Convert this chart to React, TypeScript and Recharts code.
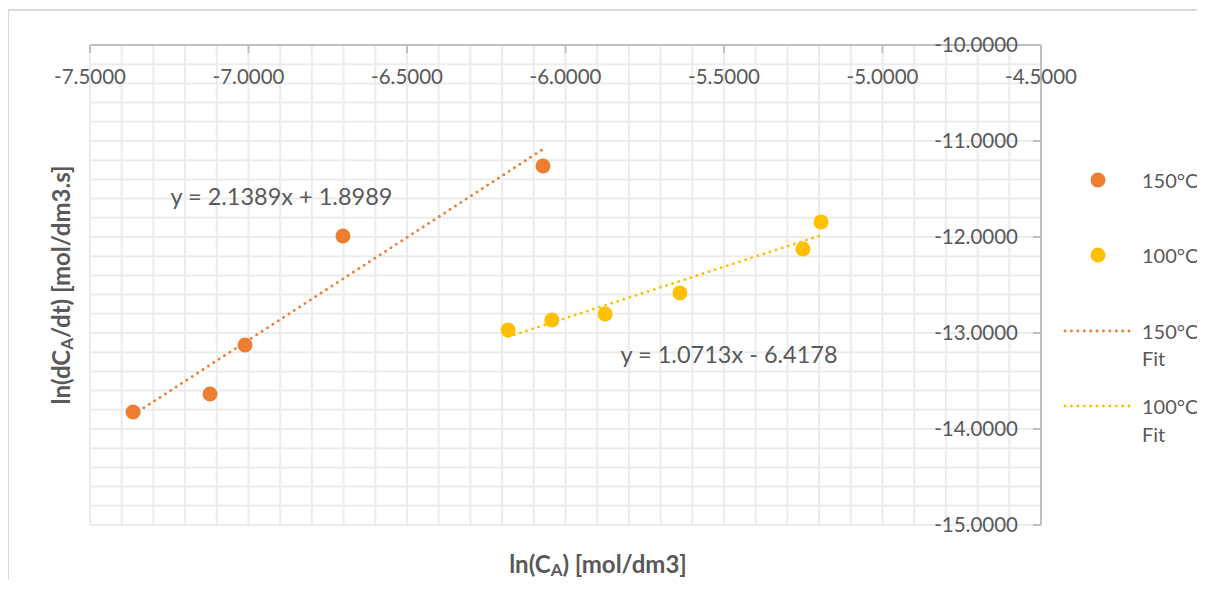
import React from "react";
import { ScatterChart, Scatter, XAxis, YAxis, ReferenceLine, ReferenceDot } from "recharts";

// ln(CA) and ln(rate)
const lnCa150 = [-7.364, -7.1215, -7.011, -6.702, -6.071];
const lnRate150 = [-13.823, -13.635, -13.125, -11.99, -11.26];
const lnCa100 = [-6.181, -6.043, -5.875, -5.639, -5.251, -5.194];
const lnRate100 = [-12.969, -12.865, -12.802, -12.583, -12.125, -11.844];

// trendline coefficients (from the equations on the chart)
const fitCoef150 = [2.1389, 1.8989];
const fitCoef100 = [1.0713, -6.4178];

const xTicks = [-7.5, -7, -6.5, -6, -5.5, -5, -4.5];
const yTicks = [-15, -14, -13, -12, -11, -10];
// minor gridlines: every 0.1 on x, every 0.2 on y
const minorX = Array.from({ length: 31 }, (_, i) => -7.5 + i * 0.1);
const minorY = Array.from({ length: 26 }, (_, i) => -15 + i * 0.2);

const ORANGE = "#ED7D31";
const YELLOW = "#FFC000";
const TEXT = "#595959";
const GRID = "#ececec";
const FONT = "Lato, 'Open Sans', sans-serif";

const toPoints = (xs: number[], ys: number[]) => xs.map((x, i) => ({ x, y: ys[i] }));

const fitPoints = (xs: number[], coef: number[]) => {
  const lo = Math.min(...xs);
  const hi = Math.max(...xs);
  return [
    { x: lo, y: coef[0] * lo + coef[1] },
    { x: hi, y: coef[0] * hi + coef[1] },
  ];
};

const pts150 = toPoints(lnCa150, lnRate150);
const pts100 = toPoints(lnCa100, lnRate100);
const fit150 = fitPoints(lnCa150, fitCoef150);
const fit100 = fitPoints(lnCa100, fitCoef100);

const fmt = (v: number) => v.toFixed(4);

const dot = (color: string) => (props: any) => (
  <circle cx={props.cx} cy={props.cy} r={7.5} fill={color} />
);

const tickStyle = { fill: TEXT, fontSize: 20.5, fontFamily: FONT };
const axisStroke = { stroke: "#bfbfbf", strokeWidth: 2 };
const dotted = (color: string) => ({
  stroke: color,
  strokeWidth: 2.8,
  strokeDasharray: "0.1 6.3",
  strokeLinecap: "round" as const,
});

const LEG = 20;

const Overlay = () => (
  <svg
    width={1196}
    height={570}
    style={{ position: "absolute", left: 0, top: 0, pointerEvents: "none", overflow: "visible" }}
    fontFamily={FONT}
  >
    <text x={589} y={552} textAnchor="middle" dominantBaseline="central" fill={TEXT} fontSize={24} fontWeight="bold">
      ln(C<tspan dy={6} fontSize={17}>A</tspan>
      <tspan dy={-6}>) [mol/dm3]</tspan>
    </text>
    <text
      transform="translate(51,274) rotate(-90)"
      textAnchor="middle"
      dominantBaseline="central"
      fill={TEXT}
      fontSize={24}
      fontWeight="bold"
    >
      ln(dC<tspan dy={6} fontSize={17}>A</tspan>
      <tspan dy={-6}>/dt) [mol/dm3.s]</tspan>
    </text>

    <circle cx={1089} cy={169} r={7.5} fill={ORANGE} />
    <text x={1133} y={169} dominantBaseline="central" fill={TEXT} fontSize={LEG}>150°C</text>
    <circle cx={1089} cy={244} r={7.5} fill={YELLOW} />
    <text x={1133} y={244} dominantBaseline="central" fill={TEXT} fontSize={LEG}>100°C</text>

    <line x1={1056} x2={1121} y1={320} y2={320} {...dotted(ORANGE)} />
    <text x={1133} y={320} dominantBaseline="central" fill={TEXT} fontSize={LEG}>150°C</text>
    <text x={1133} y={347} dominantBaseline="central" fill={TEXT} fontSize={LEG}>Fit</text>
    <line x1={1056} x2={1121} y1={395} y2={395} {...dotted(YELLOW)} />
    <text x={1133} y={395} dominantBaseline="central" fill={TEXT} fontSize={LEG}>100°C</text>
    <text x={1133} y={423} dominantBaseline="central" fill={TEXT} fontSize={LEG}>Fit</text>
  </svg>
);

const eqLabel = (value: string) => ({
  value,
  position: "center" as const,
  fill: TEXT,
  fontSize: 23.5,
  fontFamily: FONT,
});

export default function App() {
  return (
    <div
      style={{
        position: "relative",
        left: -1,
        top: 1,
        width: 1196,
        height: 570,
        borderTop: "2px solid #d9d9d9",
        borderLeft: "2px solid #d9d9d9",
      }}
    >
      <style>{"html,body{overflow:hidden}"}</style>
      <ScatterChart width={1196} height={570} margin={{ top: 34, left: 81, right: 164, bottom: 56 }}>
        {minorX.map((v) => (
          <ReferenceLine key={"gx" + v} x={v} stroke={GRID} strokeWidth={2} />
        ))}
        {minorY.map((v) => (
          <ReferenceLine key={"gy" + v} y={v} stroke={GRID} strokeWidth={2} />
        ))}
        <XAxis
          type="number"
          dataKey="x"
          orientation="top"
          mirror
          domain={[-7.5, -4.5]}
          ticks={xTicks}
          interval={0}
          allowDataOverflow
          tickFormatter={fmt}
          tick={tickStyle}
          tickSize={8}
          tickMargin={16}
          axisLine={axisStroke}
          tickLine={axisStroke}
        />
        <YAxis
          type="number"
          dataKey="y"
          orientation="right"
          mirror
          domain={[-15, -10]}
          ticks={yTicks}
          interval={0}
          allowDataOverflow
          tickFormatter={fmt}
          tick={tickStyle}
          tickSize={8}
          tickMargin={15}
          axisLine={axisStroke}
          tickLine={axisStroke}
        />
        <Scatter name="150°C" data={pts150} fill={ORANGE} shape={dot(ORANGE)} isAnimationActive={false} />
        <Scatter name="100°C" data={pts100} fill={YELLOW} shape={dot(YELLOW)} isAnimationActive={false} />
        <Scatter
          name="150°C Fit"
          data={fit150}
          line={dotted(ORANGE)}
          shape={() => <g />}
          legendType="none"
          isAnimationActive={false}
        />
        <Scatter
          name="100°C Fit"
          data={fit100}
          line={dotted(YELLOW)}
          shape={() => <g />}
          legendType="none"
          isAnimationActive={false}
        />
        <ReferenceDot x={-6.896} y={-11.583} r={0} fill="none" stroke="none" label={eqLabel("y = 2.1389x + 1.8989")} />
        <ReferenceDot x={-5.484} y={-13.229} r={0} fill="none" stroke="none" label={eqLabel("y = 1.0713x - 6.4178")} />
      </ScatterChart>
      <Overlay />
    </div>
  );
}
